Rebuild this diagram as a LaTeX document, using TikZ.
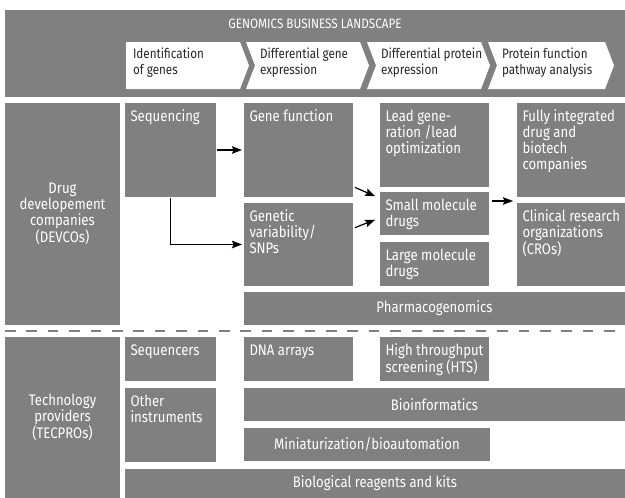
\documentclass[tikz,border=0pt]{standalone}
\usepackage{fontspec}
\setmainfont[FakeStretch=0.86]{Fira Sans}
\usetikzlibrary{calc,arrows.meta}

\definecolor{boxgrey}{RGB}{128,128,130}
\definecolor{chevtext}{RGB}{40,40,40}

% a grey box: name, x1, y1, x2, y2 (pixels, y downwards), centred text
\newcommand\gboxn[6]{%
  \node[gbox,minimum width={(#4-#2)*1pt},minimum height={(#5-#3)*1pt}]
    (#1) at ({(#2+#4)/2},{(#3+#5)/2}) {#6};}
% a grey box with its text in the top-left corner
\newcommand\tlbox[6]{%
  \gboxn{#1}{#2}{#3}{#4}{#5}{}
  \node[tltext] (#1-t) at ([shift={(5.5,6.8)}]#1.north west) {#6};}

\tikzset{
  plain/.style={inner sep=0pt, outer sep=0pt},
  gbox/.style={plain, fill=boxgrey, align=center, text=white,
    font=\fontsize{15.3}{16}\selectfont},
  tltext/.style={plain, anchor=north west, align=left, text=white,
    font=\fontsize{15.3}{16}\selectfont, execute at begin node=\strut},
  chevlabel/.style={plain, anchor=north west, align=left, text=chevtext,
    font=\fontsize{13.6}{16}\selectfont, execute at begin node=\strut},
  chev/.style={fill=white},
  arr/.style={line width=1.2pt, -{Stealth[length=10pt,width=7.5pt,inset=1.5pt]},
    shorten >=2pt, shorten <=1pt},
  sepline/.style={draw=boxgrey, line width=1.5pt, dash pattern=on 10.5pt off 10.9pt},
}

\begin{document}
\begin{tikzpicture}[x=1pt,y=-1pt]
\useasboundingbox[fill=white] (0,0) rectangle (625,498);

% ---- header band with the four process stages
\gboxn{banner}{5}{10}{625}{97}{}
\node[plain, anchor=base, text=white, font=\fontsize{13.6}{16}\selectfont]
  (title) at (315,28.5) {GENOMICS BUSINESS LANDSCAPE};

\fill[chev] (126,42) -- (240,42) -- (249,65.5) -- (240,89) -- (126,89) -- cycle;
\fill[chev] (246,42) -- (360,42) -- (369,65.5) -- (360,89) -- (246,89) -- (255,65.5) -- cycle;
\fill[chev] (367,42) -- (481,42) -- (490,65.5) -- (481,89) -- (367,89) -- (376,65.5) -- cycle;
\fill[chev] (488,42) -- (605,42) -- (614,65.5) -- (605,89) -- (488,89) -- (497,65.5) -- cycle;

\node[chevlabel] (stage1) at (133,48.3) {Identification\\of genes};
\node[chevlabel] (stage2) at (260,48.3) {Differential gene\\expression};
\node[chevlabel] (stage3) at (381,48.3) {Differential protein\\expression};
\node[chevlabel] (stage4) at (502,48.3) {Protein function\\pathway analysis};

% ---- drug development companies
\gboxn{devco}{5}{103}{120}{325}{Drug\\developement\\companies\\(DEVCOs)}
\tlbox{seq}{125}{103}{216}{197}{Sequencing}
\tlbox{genefn}{244}{103}{353}{197}{Gene function}
\tlbox{genvar}{244}{203}{353}{286}{Genetic\\variability/\\SNPs}
\tlbox{lead}{380}{103}{489}{187}{Lead gene-\\ration /lead\\optimization}
\tlbox{small}{380}{192}{489}{235}{Small molecule\\drugs}
\tlbox{large}{380}{242}{489}{286}{Large molecule\\drugs}
\tlbox{fully}{517}{103}{625}{197}{Fully integrated\\drug and\\biotech\\companies}
\tlbox{cro}{517}{203}{625}{286}{Clinical research\\organizations\\(CROs)}
\gboxn{pharma}{244}{292}{625}{325}{Pharmacogenomics}

\draw[arr] (seq.east) -- (genefn.west);
\draw[arr] (seq.south) |- (genvar.west);
\draw[arr] ($(genefn.south east)+(1,-10)$) -- ($(small.north west)+(-3,5)$);
\draw[arr] ($(genvar.north east)+(1,25)$) -- ($(small.north west)+(-3,27)$);
\draw[arr] ($(small.north east)+(2,9)$) -- ($(cro.north west)+(-2,-2)$);

% ---- dividing line
\coordinate (sepL) at (5,331);
\coordinate (sepR) at (625,331);
\draw[sepline] (sepL) -- (sepR);

% ---- technology providers
\gboxn{tecpro}{5}{337}{120}{498}{Technology\\providers\\(TECPROs)}
\tlbox{seqr}{125}{337}{216}{381}{Sequencers}
\tlbox{other}{125}{388}{216}{462}{Other\\instruments}
\tlbox{dna}{244}{337}{353}{381}{DNA arrays}
\tlbox{hts}{380}{337}{489}{381}{High throughput\\screening (HTS)}
\gboxn{bioinf}{244}{388}{625}{421}{Bioinformatics}
\gboxn{mini}{244}{428}{490}{461}{Miniaturization/bioautomation}
\gboxn{reag}{125}{469}{625}{498}{Biological reagents and kits}

\end{tikzpicture}
\end{document}
